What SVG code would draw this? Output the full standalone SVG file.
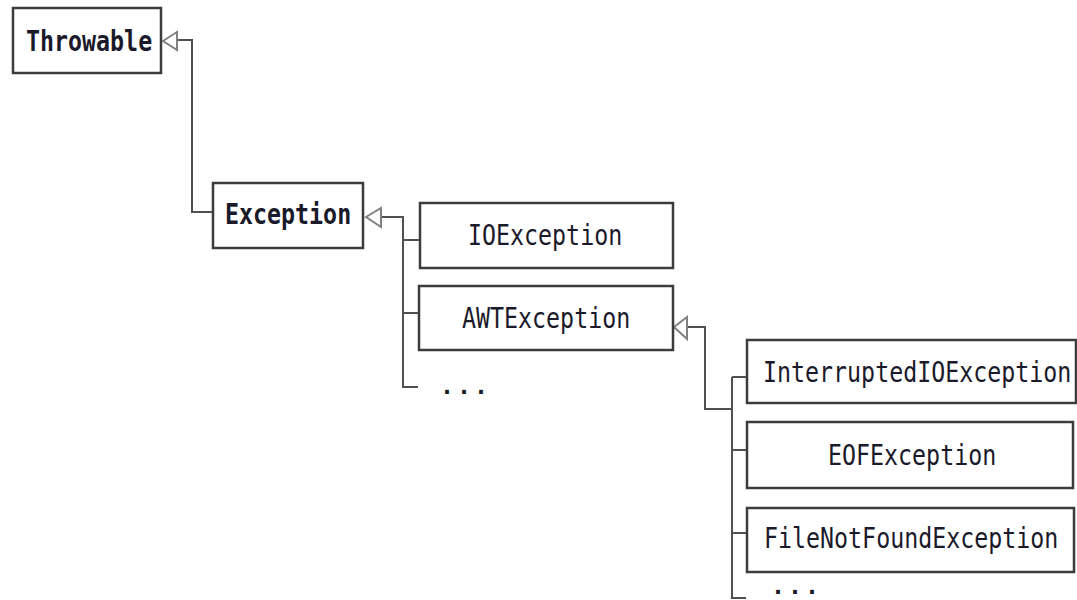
<svg xmlns="http://www.w3.org/2000/svg" width="1077" height="600" viewBox="0 0 1077 600">
<style>
.box{fill:#fff;stroke:#3c3c3c;stroke-width:2.5}
.t{font-family:"DejaVu Sans Mono","Liberation Mono",monospace;font-size:23.3px;fill:#1a1a2a}
.b{font-weight:bold}
.d{font-weight:bold;letter-spacing:3px}
.c{fill:none;stroke:#505050;stroke-width:2}
.tri{fill:#fff;stroke:#808080;stroke-width:2;stroke-linejoin:miter}
</style>
<rect width="1077" height="600" fill="#fff"/>
<g id="connectors">
<path class="c" d="M176 40 H192 V212 H213"/>
<path class="c" d="M381 217 H403 V387 H418 M403 240 H420 M403 313 H419"/>
<path class="c" d="M686 327 H705 V409 H732 M732 377 V598 H746 M732 377 H747 M732 450 H747 M732 533 H747"/>
<polygon class="tri" points="163,41 177,32 177,50"/>
<polygon class="tri" points="366,217 381,208 381,227"/>
<polygon class="tri" points="674,327 687,317 687,339"/>
</g>
<g id="throwable">
<rect class="box" x="13" y="8" width="148" height="65"/>
<text class="t b" transform="translate(26,51) scale(1,1.22)">Throwable</text>
</g>
<g id="exception">
<rect class="box" x="213" y="183" width="150" height="65"/>
<text class="t b" transform="translate(225,224) scale(1,1.22)">Exception</text>
</g>
<g id="ioexception">
<rect class="box" x="420" y="203" width="253" height="65"/>
<text class="t" transform="translate(468,245) scale(1,1.22)">IOException</text>
</g>
<g id="awtexception">
<rect class="box" x="419" y="286" width="254" height="64"/>
<text class="t" transform="translate(462,328) scale(1,1.22)">AWTException</text>
</g>
<g id="more1">
<text class="t d" x="440" y="394">...</text>
</g>
<g id="interruptedioexception">
<rect class="box" x="747" y="340" width="329" height="63"/>
<text class="t" transform="translate(763,382) scale(1,1.22)">InterruptedIOException</text>
</g>
<g id="eofexception">
<rect class="box" x="747" y="422" width="326" height="66"/>
<text class="t" transform="translate(828,465) scale(1,1.22)">EOFException</text>
</g>
<g id="filenotfoundexception">
<rect class="box" x="747" y="508" width="327" height="64"/>
<text class="t" transform="translate(764,548) scale(1,1.22)">FileNotFoundException</text>
</g>
<g id="more2">
<text class="t d" x="771" y="594">...</text>
</g>
</svg>
